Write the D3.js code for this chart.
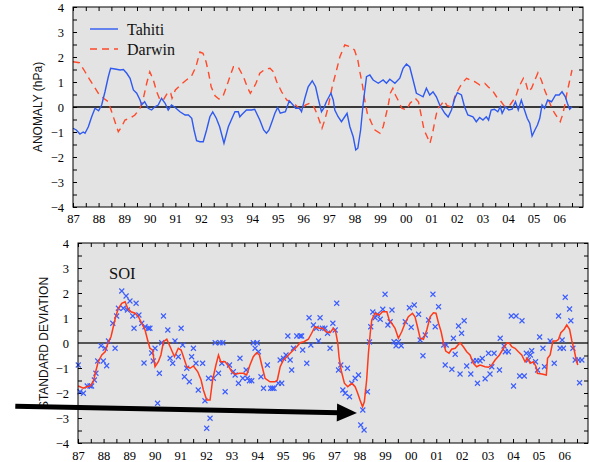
<!DOCTYPE html>
<html><head><meta charset="utf-8">
<script src="https://cdn.jsdelivr.net/npm/d3@7"></script>
<style>body{margin:0;background:#fff}svg{display:block}</style>
</head><body>
<svg id="c" width="589" height="462"></svg>
<script>
// ---------------- DATA ----------------
const tahiti = [[1987.00,-0.85],[1987.13,-0.92],[1987.27,-1.08],[1987.40,-1.00],[1987.47,-1.05],[1987.60,-0.79],[1987.73,-0.39],[1987.86,-0.05],[1988.00,-0.15],[1988.12,0.08],[1988.25,0.61],[1988.38,1.21],[1988.47,1.55],[1988.64,1.52],[1988.84,1.48],[1988.97,1.50],[1989.10,1.35],[1989.23,1.15],[1989.36,0.68],[1989.49,0.55],[1989.62,0.28],[1989.68,0.08],[1989.80,0.21],[1989.94,-0.05],[1990.07,-0.12],[1990.20,0.01],[1990.33,0.08],[1990.46,0.35],[1990.60,0.15],[1990.72,-0.12],[1990.85,0.08],[1990.98,-0.01],[1991.18,-0.19],[1991.38,-0.32],[1991.51,-0.32],[1991.64,-0.45],[1991.73,-0.92],[1991.83,-1.35],[1991.96,-1.39],[1992.09,-1.39],[1992.22,-0.92],[1992.35,-0.39],[1992.46,-0.20],[1992.60,-0.45],[1992.73,-0.79],[1992.90,-1.45],[1993.07,-0.79],[1993.27,-0.32],[1993.33,-0.19],[1993.46,-0.19],[1993.52,-0.39],[1993.60,-0.30],[1993.78,-0.12],[1993.98,-0.12],[1994.10,-0.09],[1994.30,-0.52],[1994.45,-0.92],[1994.56,-1.05],[1994.66,-0.92],[1994.80,-0.52],[1994.89,-0.25],[1995.00,-0.02],[1995.10,-0.25],[1995.30,-0.19],[1995.45,0.25],[1995.60,0.08],[1995.70,-0.05],[1995.85,-0.05],[1995.93,-0.19],[1996.06,0.35],[1996.19,0.81],[1996.35,1.05],[1996.48,0.81],[1996.58,0.35],[1996.71,-0.19],[1996.80,-0.05],[1996.90,0.21],[1997.04,0.48],[1997.08,0.55],[1997.17,0.28],[1997.23,-0.12],[1997.36,-0.39],[1997.49,-0.59],[1997.62,-0.39],[1997.71,-0.25],[1997.82,-0.79],[1997.95,-1.19],[1998.05,-1.72],[1998.13,-1.65],[1998.24,-0.92],[1998.34,0.15],[1998.47,1.21],[1998.60,1.28],[1998.73,1.08],[1998.93,0.95],[1999.12,1.08],[1999.25,0.95],[1999.38,1.11],[1999.58,0.95],[1999.77,1.15],[1999.90,1.55],[2000.03,1.72],[2000.16,1.60],[2000.29,1.08],[2000.42,0.55],[2000.55,0.48],[2000.68,0.41],[2000.81,0.75],[2000.94,0.48],[2001.07,0.61],[2001.20,0.41],[2001.33,0.08],[2001.53,-0.25],[2001.66,-0.40],[2001.79,-0.12],[2001.92,0.35],[2002.02,0.57],[2002.18,0.48],[2002.30,0.01],[2002.43,-0.32],[2002.63,-0.39],[2002.76,-0.59],[2002.89,-0.42],[2003.02,-0.52],[2003.15,-0.39],[2003.24,-0.52],[2003.34,-0.12],[2003.47,-0.09],[2003.60,-0.19],[2003.70,0.01],[2003.77,-0.25],[2003.90,0.01],[2004.03,-0.12],[2004.16,-0.09],[2004.29,0.21],[2004.40,-0.12],[2004.52,0.28],[2004.62,-0.05],[2004.75,-0.45],[2004.85,-0.65],[2004.94,-1.16],[2005.05,-0.92],[2005.15,-0.72],[2005.24,-0.45],[2005.33,0.08],[2005.43,-0.05],[2005.55,0.28],[2005.70,0.21],[2005.86,0.48],[2006.00,0.48],[2006.11,0.61],[2006.24,0.41],[2006.32,0.15],[2006.41,-0.09],[2006.50,0.01]];

const darwin = [[1987.00,1.81],[1987.25,1.77],[1987.47,1.41],[1987.66,1.08],[1987.79,0.88],[1987.99,0.55],[1988.19,0.35],[1988.38,0.21],[1988.51,-0.19],[1988.64,-0.59],[1988.77,-0.99],[1988.90,-0.79],[1989.03,-0.52],[1989.23,-0.45],[1989.42,-0.32],[1989.62,-0.05],[1989.75,0.35],[1989.88,0.95],[1990.00,1.41],[1990.14,1.08],[1990.27,0.61],[1990.40,0.28],[1990.53,0.28],[1990.72,0.61],[1990.82,0.55],[1990.87,0.35],[1991.00,0.68],[1991.20,0.88],[1991.43,1.08],[1991.62,1.21],[1991.80,1.60],[1991.96,2.20],[1992.08,2.15],[1992.20,1.81],[1992.30,1.35],[1992.40,0.81],[1992.55,0.45],[1992.70,0.32],[1992.85,0.40],[1993.00,0.81],[1993.13,1.21],[1993.27,1.61],[1993.45,1.61],[1993.66,1.21],[1993.83,0.75],[1993.93,0.55],[1994.05,0.75],[1994.15,0.95],[1994.30,1.35],[1994.50,1.51],[1994.70,1.55],[1994.83,1.41],[1994.96,1.01],[1995.15,0.61],[1995.35,0.28],[1995.55,0.18],[1995.70,0.08],[1995.90,-0.12],[1996.08,0.08],[1996.25,0.15],[1996.38,0.08],[1996.50,-0.19],[1996.62,-0.52],[1996.73,-0.85],[1996.84,-0.52],[1996.96,-0.05],[1997.05,0.41],[1997.13,0.81],[1997.30,1.48],[1997.43,2.01],[1997.62,2.48],[1997.82,2.41],[1998.00,2.28],[1998.13,1.88],[1998.22,1.35],[1998.31,0.88],[1998.40,0.28],[1998.50,-0.25],[1998.67,-0.65],[1998.80,-0.92],[1999.00,-1.05],[1999.12,-0.79],[1999.23,-0.32],[1999.32,0.08],[1999.40,0.55],[1999.50,0.75],[1999.60,0.48],[1999.70,0.28],[1999.85,-0.05],[2000.04,-0.12],[2000.17,0.15],[2000.37,0.35],[2000.50,0.21],[2000.63,-0.45],[2000.72,-0.92],[2000.84,-1.19],[2000.95,-1.45],[2001.05,-1.05],[2001.15,-0.52],[2001.25,-0.05],[2001.38,0.08],[2001.50,0.25],[2001.62,0.05],[2001.75,0.01],[2001.85,0.15],[2001.92,0.41],[2002.05,0.68],[2002.20,0.95],[2002.38,1.15],[2002.52,1.08],[2002.70,1.01],[2002.90,0.88],[2003.09,0.95],[2003.22,0.81],[2003.38,0.68],[2003.55,0.41],[2003.68,0.28],[2003.88,0.01],[2004.08,0.08],[2004.30,0.41],[2004.43,0.81],[2004.60,1.15],[2004.70,0.95],[2004.79,0.61],[2004.92,0.75],[2005.05,1.08],[2005.17,1.37],[2005.30,1.08],[2005.43,0.68],[2005.56,0.35],[2005.69,0.01],[2005.82,-0.25],[2005.95,-0.45],[2006.04,-0.59],[2006.13,-0.32],[2006.22,0.08],[2006.30,0.55],[2006.40,1.01],[2006.50,1.48]];

const soiSmooth = [[1987.01,-1.72],[1987.21,-1.81],[1987.34,-1.75],[1987.47,-1.72],[1987.60,-1.55],[1987.69,-1.15],[1987.79,-0.75],[1987.93,-0.48],[1988.06,-0.35],[1988.19,0.05],[1988.29,0.25],[1988.38,0.65],[1988.47,1.05],[1988.58,1.39],[1988.71,1.59],[1988.84,1.65],[1988.94,1.39],[1989.07,1.25],[1989.23,1.19],[1989.36,1.05],[1989.49,0.79],[1989.62,0.52],[1989.72,0.12],[1989.81,-0.21],[1989.91,-0.28],[1990.01,-0.95],[1990.14,-0.75],[1990.24,-0.48],[1990.34,0.05],[1990.47,0.15],[1990.60,-0.15],[1990.77,-0.55],[1990.92,-0.21],[1991.03,-0.28],[1991.12,-0.55],[1991.25,-0.95],[1991.38,-1.01],[1991.51,-0.92],[1991.68,-1.15],[1991.81,-1.48],[1991.90,-1.88],[1992.03,-2.28],[1992.16,-2.28],[1992.26,-1.48],[1992.39,-0.88],[1992.49,-0.48],[1992.58,-0.75],[1992.75,-0.75],[1992.88,-0.92],[1993.01,-1.15],[1993.14,-1.25],[1993.31,-1.21],[1993.46,-1.21],[1993.59,-1.28],[1993.72,-0.88],[1993.85,-0.55],[1993.98,-0.39],[1994.09,-0.48],[1994.18,-0.88],[1994.31,-1.41],[1994.50,-1.55],[1994.70,-1.55],[1994.79,-1.48],[1994.90,-0.95],[1995.03,-0.68],[1995.16,-0.55],[1995.29,-0.41],[1995.42,-0.28],[1995.55,-0.15],[1995.68,0.01],[1995.83,0.05],[1996.00,0.15],[1996.13,0.39],[1996.26,0.65],[1996.43,0.59],[1996.56,0.59],[1996.70,0.45],[1996.85,0.41],[1996.98,0.59],[1997.07,0.45],[1997.15,0.01],[1997.20,-0.55],[1997.28,-1.08],[1997.41,-1.61],[1997.54,-1.75],[1997.70,-1.61],[1997.83,-1.75],[1997.93,-2.01],[1998.02,-2.28],[1998.12,-2.55],[1998.19,-2.35],[1998.28,-1.48],[1998.35,-0.41],[1998.42,0.39],[1998.48,0.92],[1998.61,1.19],[1998.77,1.12],[1998.90,1.25],[1999.07,1.25],[1999.16,0.92],[1999.26,0.79],[1999.39,0.59],[1999.52,0.19],[1999.65,0.45],[1999.78,0.79],[1999.91,1.05],[2000.07,1.19],[2000.17,1.05],[2000.28,0.59],[2000.37,0.19],[2000.50,0.15],[2000.63,0.52],[2000.76,1.05],[2000.89,1.21],[2000.99,1.19],[2001.09,0.79],[2001.19,0.45],[2001.28,0.01],[2001.37,-0.32],[2001.50,-0.41],[2001.60,-0.25],[2001.74,-0.21],[2001.93,0.01],[2002.06,-0.15],[2002.19,-0.35],[2002.32,-0.48],[2002.45,-0.81],[2002.58,-0.95],[2002.71,-0.88],[2002.91,-0.95],[2003.04,-0.97],[2003.17,-0.88],[2003.30,-0.68],[2003.47,-0.48],[2003.63,-0.21],[2003.76,0.01],[2003.86,-0.01],[2003.95,-0.15],[2004.08,-0.21],[2004.21,-0.35],[2004.34,-0.48],[2004.47,-0.75],[2004.56,-0.61],[2004.67,-0.81],[2004.80,-0.75],[2004.90,-0.95],[2004.95,-1.21],[2005.13,-1.24],[2005.30,-1.28],[2005.35,-0.61],[2005.45,-0.48],[2005.56,0.08],[2005.69,0.08],[2005.78,0.15],[2005.87,0.41],[2006.00,0.55],[2006.10,0.72],[2006.21,0.55],[2006.30,0.08],[2006.39,-0.28],[2006.47,-0.68],[2006.53,-0.88]];

const soiMonthly = [[1987.01,-0.88],[1987.08,-1.95],[1987.21,-2.01],[1987.36,-1.72],[1987.47,-1.72],[1987.53,-1.72],[1987.64,-1.48],[1987.70,-1.21],[1987.77,-0.72],[1987.90,-0.11],[1987.99,-0.72],[1988.06,-0.21],[1988.12,-0.91],[1988.19,0.08],[1988.36,0.79],[1988.45,-0.21],[1988.51,1.08],[1988.58,1.39],[1988.71,2.08],[1988.77,1.39],[1988.88,1.88],[1988.93,1.32],[1989.03,1.68],[1989.14,1.08],[1989.19,0.59],[1989.27,1.59],[1989.38,1.12],[1989.49,0.79],[1989.62,0.65],[1989.58,-0.80],[1989.75,0.59],[1989.81,0.59],[1989.88,-0.40],[1989.94,-0.72],[1990.01,-0.21],[1990.11,-2.41],[1990.18,-1.21],[1990.27,0.01],[1990.34,1.08],[1990.51,0.52],[1990.60,-0.61],[1990.70,-0.81],[1990.79,0.08],[1990.92,-0.55],[1991.03,0.59],[1991.09,-0.08],[1991.16,-1.35],[1991.25,-1.01],[1991.35,-1.55],[1991.44,-0.55],[1991.51,-0.21],[1991.61,-0.81],[1991.70,-1.88],[1991.87,-0.81],[1991.96,-2.31],[1992.03,-3.41],[1992.10,-1.41],[1992.16,-3.01],[1992.29,-1.41],[1992.36,0.01],[1992.49,-1.21],[1992.55,0.01],[1992.62,-0.81],[1992.66,0.01],[1992.75,-1.95],[1992.92,-0.88],[1993.07,-1.15],[1993.14,-1.28],[1993.27,-1.61],[1993.33,-0.61],[1993.44,-1.41],[1993.57,-1.08],[1993.62,-1.41],[1993.70,-1.51],[1993.79,-1.51],[1993.85,0.01],[1993.92,-0.21],[1994.00,0.01],[1994.05,-0.35],[1994.15,-1.35],[1994.25,-1.81],[1994.40,-0.88],[1994.53,-1.81],[1994.60,-1.81],[1994.66,-1.81],[1994.83,-1.61],[1994.90,-0.68],[1994.96,-1.61],[1995.03,-0.61],[1995.13,-0.48],[1995.20,0.28],[1995.29,-0.68],[1995.35,-1.08],[1995.42,-0.21],[1995.55,0.28],[1995.68,0.28],[1995.74,0.28],[1995.78,-0.28],[1995.94,-0.81],[1996.03,1.01],[1996.10,-0.08],[1996.20,0.72],[1996.31,0.59],[1996.40,0.08],[1996.46,1.01],[1996.55,0.59],[1996.65,0.59],[1996.75,0.39],[1996.85,-0.21],[1996.96,0.79],[1997.05,0.52],[1997.11,1.59],[1997.18,-1.08],[1997.27,-0.88],[1997.35,-1.88],[1997.44,-2.01],[1997.53,-1.01],[1997.61,-2.15],[1997.70,-1.61],[1997.83,-1.41],[1997.96,-1.28],[1998.05,-3.28],[1998.13,-2.68],[1998.18,-3.48],[1998.31,-1.95],[1998.39,0.04],[1998.44,0.65],[1998.52,1.24],[1998.61,1.01],[1998.70,1.15],[1998.81,0.95],[1998.91,1.35],[1999.00,1.95],[1999.11,0.72],[1999.20,0.85],[1999.27,1.32],[1999.35,0.05],[1999.43,-0.11],[1999.52,0.05],[1999.63,-0.11],[1999.79,0.85],[1999.95,1.41],[2000.02,0.63],[2000.14,1.52],[2000.31,1.15],[2000.37,0.12],[2000.48,-0.51],[2000.57,0.32],[2000.70,0.92],[2000.87,1.95],[2000.96,0.65],[2001.09,1.45],[2001.29,-0.08],[2001.35,-0.88],[2001.39,-0.08],[2001.61,-1.05],[2001.67,0.19],[2001.74,-0.45],[2001.87,0.68],[2001.93,-1.24],[2001.99,0.39],[2002.09,0.89],[2002.19,-0.92],[2002.35,-1.24],[2002.45,-0.71],[2002.58,-0.71],[2002.61,-1.61],[2002.71,-0.71],[2002.80,-0.62],[2002.91,-1.43],[2003.04,-0.41],[2003.10,-1.24],[2003.17,-0.95],[2003.26,-0.41],[2003.47,-1.08],[2003.50,0.19],[2003.65,-0.12],[2003.70,-0.35],[2003.82,-0.35],[2003.93,1.08],[2004.02,-1.72],[2004.12,1.08],[2004.26,-1.32],[2004.35,0.89],[2004.44,-1.32],[2004.52,-0.41],[2004.60,-0.68],[2004.68,-0.48],[2004.73,-0.31],[2004.88,-0.75],[2004.96,-1.08],[2005.04,0.24],[2005.17,-0.21],[2005.23,-0.95],[2005.45,0.08],[2005.61,-0.81],[2005.78,1.08],[2005.84,-0.21],[2005.92,0.12],[2005.97,-0.21],[2006.04,1.83],[2006.21,1.36],[2006.26,0.89],[2006.34,-0.21],[2006.43,-0.68],[2006.56,-0.68],[2006.60,-1.59],[2006.69,-0.68]];

const yearTicks = d3.range(1987, 2007);          // labelled years 87..06
const yTickValues = [-4,-3,-2,-1,0,1,2,3,4];
const legendLabels = ["Tahiti", "Darwin"];
const topTitle = "ANOMALY (hPa)";
const bottomTitle = "STANDARD DEVIATION";
const bottomLabel = "SOI";
const arrowTip = [1997.9, -2.8];
const arrowTail = [1984.55, -2.53];

// ---------------- LAYOUT ----------------
const svg = d3.select("#c");
const serif = "'Liberation Serif','Times New Roman',serif";
const sans = "'Liberation Sans',Arial,sans-serif";
const bg = "#e3e3e3";
const panels = {
  top: {x0: 73, x1: 583, y0: 7, y1: 207},
  bot: {x0: 78, x1: 588, y0: 243, y1: 443}
};
const xDomain = [1987, 2006.93];
const fmtYear = d => String(Math.round(d) % 100).padStart(2, "0");
const halfYears = d3.range(1987, 2006.9, 0.5);
const halfVals = d3.range(-4, 4.01, 0.5);

function makePanel(p, title, titleX, labelBaseline) {
  const x = d3.scaleLinear().domain(xDomain).range([p.x0, p.x1]);
  const y = d3.scaleLinear().domain([-4, 4]).range([p.y1, p.y0]);
  const g = svg.append("g");
  g.append("rect").attr("x", p.x0).attr("y", p.y0).attr("width", p.x1 - p.x0).attr("height", p.y1 - p.y0).attr("fill", bg);

  const styleAxis = (sel) => {
    sel.select(".domain").remove();
    sel.selectAll(".tick line").attr("stroke", "#000").attr("stroke-width", 1);
    sel.selectAll("text").attr("font-family", serif).attr("font-size", 12.5).attr("fill", "#000");
  };
  const isInt = v => Math.abs(v - Math.round(v)) < 1e-6;

  g.append("g").attr("transform", `translate(0,${p.y1})`)
    .call(d3.axisBottom(x).tickValues(halfYears).tickSizeInner(-4).tickSizeOuter(0)
      .tickFormat(d => isInt(d) ? fmtYear(d) : ""))
    .call(styleAxis)
    .call(s => s.selectAll("text").attr("y", labelBaseline).attr("dy", null));
  g.append("g").attr("transform", `translate(0,${p.y0})`)
    .call(d3.axisTop(x).tickValues(halfYears).tickSizeInner(-4).tickSizeOuter(0).tickFormat(""))
    .call(styleAxis);
  g.append("g").attr("transform", `translate(${p.x0},0)`)
    .call(d3.axisLeft(y).tickValues(halfVals).tickSizeInner(-4).tickSizeOuter(0).tickPadding(9)
      .tickFormat(d => isInt(d) ? d3.format("d")(d) : ""))
    .call(styleAxis);
  g.append("g").attr("transform", `translate(${p.x1},0)`)
    .call(d3.axisRight(y).tickValues(halfVals).tickSizeInner(-4).tickSizeOuter(0).tickFormat(""))
    .call(styleAxis);

  g.append("text").attr("transform", `translate(${titleX},${(p.y0 + p.y1) / 2}) rotate(-90)`)
    .attr("text-anchor", "middle").attr("font-family", sans).attr("font-size", 12)
    .attr("fill", "#111").text(title);
  return {x, y, g};
}

// ---------------- TOP PANEL ----------------
const T = makePanel(panels.top, topTitle, 41.5, 16);
const lineT = d3.line().x(d => T.x(d[0])).y(d => T.y(d[1]));
T.g.append("line").attr("x1", panels.top.x0).attr("x2", panels.top.x1)
  .attr("y1", T.y(0)).attr("y2", T.y(0)).attr("stroke", "#000").attr("stroke-width", 1.4);
T.g.append("path").datum(darwin).attr("d", lineT).attr("fill", "none")
  .attr("stroke", "#ff4a2a").attr("stroke-width", 1.4).attr("stroke-dasharray", "7,5");
T.g.append("path").datum(tahiti).attr("d", lineT).attr("fill", "none")
  .attr("stroke", "#2f5af0").attr("stroke-width", 1.4);
T.g.append("rect").attr("x", panels.top.x0).attr("y", panels.top.y0)
  .attr("width", panels.top.x1 - panels.top.x0).attr("height", panels.top.y1 - panels.top.y0)
  .attr("fill", "none").attr("stroke", "#000").attr("stroke-width", 1);

// legend
const leg = T.g.append("g");
[[29, "#2f5af0", null], [49, "#ff4a2a", "7,5"]].forEach((s, i) => {
  leg.append("line").attr("x1", 90).attr("x2", 118).attr("y1", s[0]).attr("y2", s[0])
    .attr("stroke", s[1]).attr("stroke-width", 1.4).attr("stroke-dasharray", s[2]);
  leg.append("text").attr("x", 127).attr("y", s[0] + 6).attr("font-family", serif)
    .attr("font-size", 16).attr("fill", "#111").text(legendLabels[i]);
});

// ---------------- BOTTOM PANEL ----------------
const B = makePanel(panels.bot, bottomTitle, 47.5, 17);
const lineB = d3.line().x(d => B.x(d[0])).y(d => B.y(d[1]));
B.g.append("line").attr("x1", panels.bot.x0).attr("x2", panels.bot.x1)
  .attr("y1", B.y(0)).attr("y2", B.y(0)).attr("stroke", "#555").attr("stroke-width", 2);
B.g.append("g").selectAll("path").data(soiMonthly).join("path")
  .attr("transform", d => `translate(${B.x(d[0])},${B.y(d[1])})`)
  .attr("d", "M-2.5,-2.5L2.5,2.5M-2.5,2.5L2.5,-2.5")
  .attr("stroke", "#3a5cff").attr("stroke-width", 1.1).attr("fill", "none");
B.g.append("path").datum(soiSmooth).attr("d", lineB).attr("fill", "none")
  .attr("stroke", "#ff3a1a").attr("stroke-width", 1.5);
B.g.append("rect").attr("x", panels.bot.x0).attr("y", panels.bot.y0)
  .attr("width", panels.bot.x1 - panels.bot.x0).attr("height", panels.bot.y1 - panels.bot.y0)
  .attr("fill", "none").attr("stroke", "#000").attr("stroke-width", 1);
B.g.append("text").attr("x", 109).attr("y", 279).attr("font-family", serif)
  .attr("font-size", 16.5).attr("fill", "#111").text(bottomLabel);

// ---------------- ARROW ----------------
const tip = [B.x(arrowTip[0]), B.y(arrowTip[1])];
const tail = [B.x(arrowTail[0]), B.y(arrowTail[1])];
const ang = Math.atan2(tip[1] - tail[1], tip[0] - tail[0]);
const headLen = 20, headHalf = 9;
const base = [tip[0] - headLen * Math.cos(ang), tip[1] - headLen * Math.sin(ang)];
svg.append("line").attr("x1", tail[0]).attr("y1", tail[1]).attr("x2", base[0] + 2 * Math.cos(ang)).attr("y2", base[1] + 2 * Math.sin(ang))
  .attr("stroke", "#000").attr("stroke-width", 5);
svg.append("path").attr("d", d3.line()([
  [base[0] - headHalf * Math.sin(ang), base[1] + headHalf * Math.cos(ang)],
  tip,
  [base[0] + headHalf * Math.sin(ang), base[1] - headHalf * Math.cos(ang)]
]) + "Z").attr("fill", "#000");
</script>
</body></html>
